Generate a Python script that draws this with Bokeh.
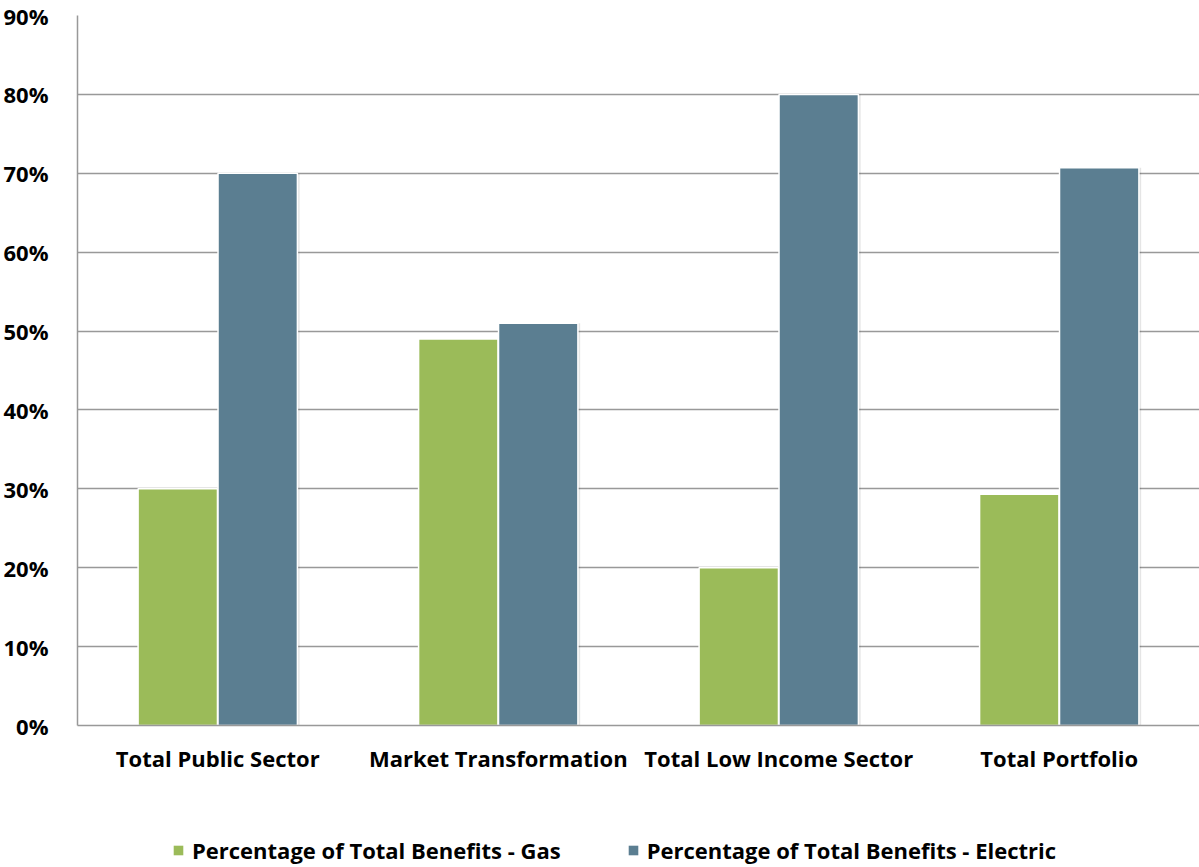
from bokeh.plotting import figure
from bokeh.layouts import column
from bokeh.models import ColumnDataSource, FactorRange, Range1d, NumeralTickFormatter, FixedTicker, Legend, LegendItem
from bokeh.transform import dodge
from bokeh.embed import file_html
from bokeh.resources import INLINE

categories = ["Total Public Sector", "Market Transformation", "Total Low Income Sector", "Total Portfolio"]
gas = [0.30, 0.49, 0.20, 0.293]
electric = [0.70, 0.51, 0.80, 0.707]
series_names = ["Percentage of Total Benefits - Gas", "Percentage of Total Benefits - Electric"]
y_ticks = [0.0, 0.1, 0.2, 0.3, 0.4, 0.5, 0.6, 0.7, 0.8, 0.9]

GREEN = "#9BBB59"
BLUE = "#5B7E91"
FONT = "Open Sans"
FS = "22px"

src = ColumnDataSource(dict(cat=categories, gas=gas, electric=electric))

p = figure(x_range=FactorRange(*categories, range_padding=0), y_range=Range1d(0, 0.9),
           frame_width=1122, frame_height=710, output_backend="svg", toolbar_location=None,
           min_border_left=74, min_border_right=0, min_border_top=15, min_border_bottom=75)
p.outline_line_color = None
p.background_fill_color = "white"
p.border_fill_color = "white"

bw = 0.283
off = 0.1425
# soft shadows behind bars
p.vbar(x=dodge("cat", -off + 0.008, range=p.x_range), top="gas", width=bw, source=src,
       fill_color="#000000", fill_alpha=0.10, line_color=None)
p.vbar(x=dodge("cat", off + 0.008, range=p.x_range), top="electric", width=bw, source=src,
       fill_color="#000000", fill_alpha=0.10, line_color=None)
p.vbar(x=dodge("cat", -off, range=p.x_range), top="gas", width=bw, source=src,
       fill_color=GREEN, line_color="white", line_width=1.5)
p.vbar(x=dodge("cat", off, range=p.x_range), top="electric", width=bw, source=src,
       fill_color=BLUE, line_color="white", line_width=1.5)

p.yaxis.ticker = FixedTicker(ticks=y_ticks)
p.yaxis.formatter = NumeralTickFormatter(format="0%")
p.ygrid.ticker = FixedTicker(ticks=y_ticks)
p.ygrid.grid_line_color = "#999999"
p.ygrid.grid_line_width = 1.5
p.xgrid.grid_line_color = None

for ax in (p.xaxis, p.yaxis):
    ax.axis_line_color = "#999999"
    ax.axis_line_width = 1.5
    ax.major_tick_line_color = None
    ax.minor_tick_line_color = None
    ax.major_label_text_font = FONT
    ax.major_label_text_font_style = "bold"
    ax.major_label_text_font_size = FS
    ax.major_label_text_color = "black"
p.yaxis.major_label_standoff = 23
p.xaxis.major_label_standoff = 11

# legend strip below the chart
lg = figure(width=1199, height=67, x_range=Range1d(0, 1), y_range=Range1d(0, 1),
            output_backend="svg", toolbar_location=None,
            x_axis_location=None, y_axis_location=None,
            min_border_left=0, min_border_right=0, min_border_top=0, min_border_bottom=0)
lg.outline_line_color = None
lg.grid.visible = False
# swatch renderers kept outside the visible range; they only feed the legend glyphs
swatch = ColumnDataSource(dict(x=[5.0], top=[0.5]))
g1 = lg.vbar(x="x", top="top", width=0.1, source=swatch, fill_color=GREEN, line_color=None)
g2 = lg.vbar(x="x", top="top", width=0.1, source=swatch, fill_color=BLUE, line_color=None)
legend = Legend(items=[LegendItem(label=series_names[0], renderers=[g1]),
                       LegendItem(label=series_names[1], renderers=[g2])],
                orientation="horizontal", location=(95, 2),
                label_text_font=FONT, label_text_font_style="bold", label_text_font_size=FS,
                label_text_color="black", glyph_width=12, glyph_height=12, spacing=66,
                border_line_color=None, background_fill_alpha=0, margin=0, padding=0,
                label_standoff=8)
lg.add_layout(legend)

layout = column(p, lg, spacing=0)
open("out.html", "w").write(file_html(layout, INLINE))
